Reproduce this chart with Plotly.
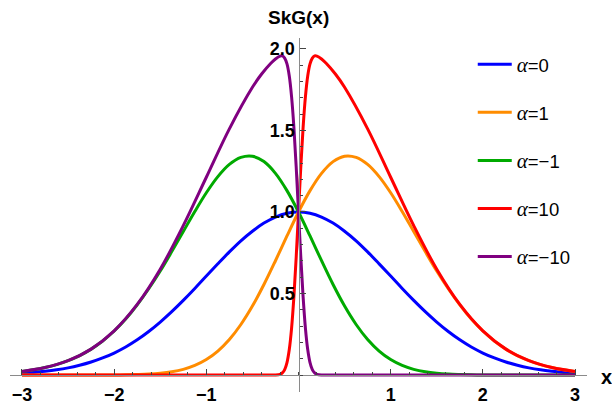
import plotly.graph_objects as go

# ---- data ----
x_grid = [-3, -2.875, -2.75, -2.625, -2.5, -2.375, -2.25, -2.125, -2, -1.875, -1.75, -1.625, -1.5, -1.375,
          -1.25, -1.125, -1, -0.875, -0.75, -0.625, -0.5, -0.375, -0.25, -0.125, 0,
          0.125, 0.25, 0.375, 0.5, 0.625, 0.75, 0.875, 1, 1.125, 1.25, 1.375, 1.5, 1.625, 1.75, 1.875,
          2, 2.125, 2.25, 2.375, 2.5, 2.625, 2.75, 2.875, 3]
alpha0 = [0.011, 0.016, 0.023, 0.032, 0.044, 0.060, 0.080, 0.105, 0.135, 0.172, 0.216, 0.267, 0.325, 0.389,
          0.458, 0.531, 0.607, 0.682, 0.755, 0.823, 0.882, 0.932, 0.969, 0.992, 1.000,
          0.992, 0.969, 0.932, 0.882, 0.823, 0.755, 0.682, 0.607, 0.531, 0.458, 0.389, 0.325, 0.267, 0.216, 0.172,
          0.135, 0.105, 0.080, 0.060, 0.044, 0.032, 0.023, 0.016, 0.011]
alpha1 = [0.0, 0.0, 0.0, 0.0, 0.0, 0.0001, 0.0001, 0.0003, 0.0006, 0.0014, 0.003, 0.0057, 0.011, 0.020,
          0.035, 0.059, 0.095, 0.147, 0.218, 0.310, 0.423, 0.555, 0.701, 0.853, 1.000,
          1.131, 1.237, 1.309, 1.342, 1.335, 1.292, 1.217, 1.118, 1.003, 0.880, 0.757, 0.638, 0.529, 0.430, 0.343,
          0.270, 0.209, 0.159, 0.119, 0.088, 0.064, 0.046, 0.032, 0.022]
alpha_m1 = [0.022, 0.032, 0.046, 0.064, 0.088, 0.119, 0.159, 0.209, 0.270, 0.343, 0.430, 0.529, 0.638, 0.757,
            0.880, 1.003, 1.118, 1.217, 1.292, 1.335, 1.342, 1.309, 1.237, 1.131, 1.000,
            0.853, 0.701, 0.555, 0.423, 0.310, 0.218, 0.147, 0.095, 0.059, 0.035, 0.020, 0.011, 0.0057, 0.003, 0.0014,
            0.0006, 0.0003, 0.0001, 0.0001, 0.0, 0.0, 0.0, 0.0, 0.0]

x_fine = [-3, -2, -1, -0.5, -0.4, -0.3, -0.25, -0.2, -0.175, -0.15, -0.125, -0.1, -0.075, -0.05, -0.025, 0,
          0.025, 0.05, 0.075, 0.1, 0.125, 0.15, 0.175, 0.2, 0.25, 0.3, 0.4, 0.5, 0.75, 1, 1.25, 1.5,
          1.75, 2, 2.25, 2.5, 2.75, 3]
alpha10 = [0.0, 0.0, 0.0, 0.0, 0.0, 0.0, 0.0004, 0.0046, 0.0131, 0.0335, 0.0765, 0.1565, 0.288, 0.479, 0.7235, 1.000,
           1.276, 1.519, 1.706, 1.834, 1.908, 1.944, 1.957, 1.956, 1.938, 1.912, 1.846, 1.765, 1.510, 1.213, 0.916, 0.649,
           0.433, 0.271, 0.159, 0.088, 0.046, 0.022]
x_fine_m = [-3, -2.75, -2.5, -2.25, -2, -1.75, -1.5, -1.25, -1, -0.75, -0.5, -0.4, -0.3, -0.25, -0.2, -0.175, -0.15,
            -0.125, -0.1, -0.075, -0.05, -0.025, 0, 0.025, 0.05, 0.075, 0.1, 0.125, 0.15, 0.175, 0.2, 0.25, 0.3,
            0.4, 0.5, 1, 2, 3]
alpha_m10 = [0.022, 0.046, 0.088, 0.159, 0.271, 0.433, 0.649, 0.916, 1.213, 1.510, 1.765, 1.846, 1.912, 1.938, 1.956,
             1.957, 1.944, 1.908, 1.834, 1.706, 1.519, 1.276, 1.000, 0.7235, 0.479, 0.288, 0.1565, 0.0765, 0.0335,
             0.0131, 0.0046, 0.0004, 0.0, 0.0, 0.0, 0.0, 0.0, 0.0]

x_tick_vals = [-3, -2, -1, 1, 2, 3]
x_tick_text = ["\u22123", "\u22122", "\u22121", "1", "2", "3"]
y_tick_vals = [0.5, 1.0, 1.5, 2.0]
y_tick_text = ["0.5", "1.0", "1.5", "2.0"]

series = [
    ("0", x_grid, alpha0, "#0000FF"),
    ("1", x_grid, alpha1, "#FF8C00"),
    ("\u22121", x_grid, alpha_m1, "#00AA00"),
    ("10", x_fine, alpha10, "#FF0000"),
    ("\u221210", x_fine_m, alpha_m10, "#800080"),
]

fig = go.Figure()
for i, (lab, xs, ys, col) in enumerate(series):
    fig.add_trace(go.Scatter(
        x=xs, y=ys, mode="lines", line=dict(color=col, width=3, shape="spline", smoothing=1),
        name='<span style="font-family:\'Liberation Serif\';font-size:21px"><i>\u03b1</i></span>=' + lab,
        legendgroup="g%d" % i,
    ))

XR = [-3.13, 3.13]
YR = [-0.104, 2.067]
fig.update_layout(
    width=612, height=411,
    margin=dict(l=10, r=25, t=38, b=19, autoexpand=False),
    plot_bgcolor="white", paper_bgcolor="white",
    font=dict(family="Liberation Sans", color="black"),
    showlegend=True,
    legend=dict(x=0.802, y=0.978, xanchor="left", yanchor="top",
                font=dict(size=18.5, family="Liberation Sans"),
                tracegroupgap=21, traceorder="grouped", itemwidth=34,
                bgcolor="rgba(0,0,0,0)"),
    xaxis=dict(range=XR, showgrid=False, zeroline=False, showline=True, automargin=False,
               linecolor="#8a8a8a", linewidth=1,
               anchor="free", position=(0 - YR[0]) / (YR[1] - YR[0]),
               tickmode="array", tickvals=x_tick_vals, ticktext=x_tick_text,
               ticks="inside", ticklen=6, tickcolor="#444", tickwidth=1,
               ticklabelstandoff=3,
               tickfont=dict(size=18, family="Liberation Sans", weight="bold"),
               minor=dict(dtick=0.2, tick0=0, ticks="inside", ticklen=3.5, tickcolor="#444", tickwidth=1)),
    yaxis=dict(range=YR, showgrid=False, zeroline=False, showline=True, automargin=False,
               linecolor="#8a8a8a", linewidth=1,
               anchor="free", position=(0 - XR[0]) / (XR[1] - XR[0]),
               tickmode="array", tickvals=y_tick_vals, ticktext=y_tick_text,
               ticks="inside", ticklen=6, tickcolor="#444", tickwidth=1,
               tickfont=dict(size=18, family="Liberation Sans", weight="bold"),
               minor=dict(dtick=0.1, tick0=0, ticks="inside", ticklen=3.5, tickcolor="#444", tickwidth=1)),
    annotations=[
        dict(text="<b>SkG(x)</b>", x=0, xref="x", y=1, yref="paper", yshift=21,
             showarrow=False, font=dict(size=19), xanchor="center", yanchor="middle"),
        dict(text="<b>x</b>", x=1, xref="paper", xshift=19, y=0, yref="y", yshift=-2,
             showarrow=False, font=dict(size=20), xanchor="center", yanchor="middle"),
    ],
)

fig.write_html("out.html")
